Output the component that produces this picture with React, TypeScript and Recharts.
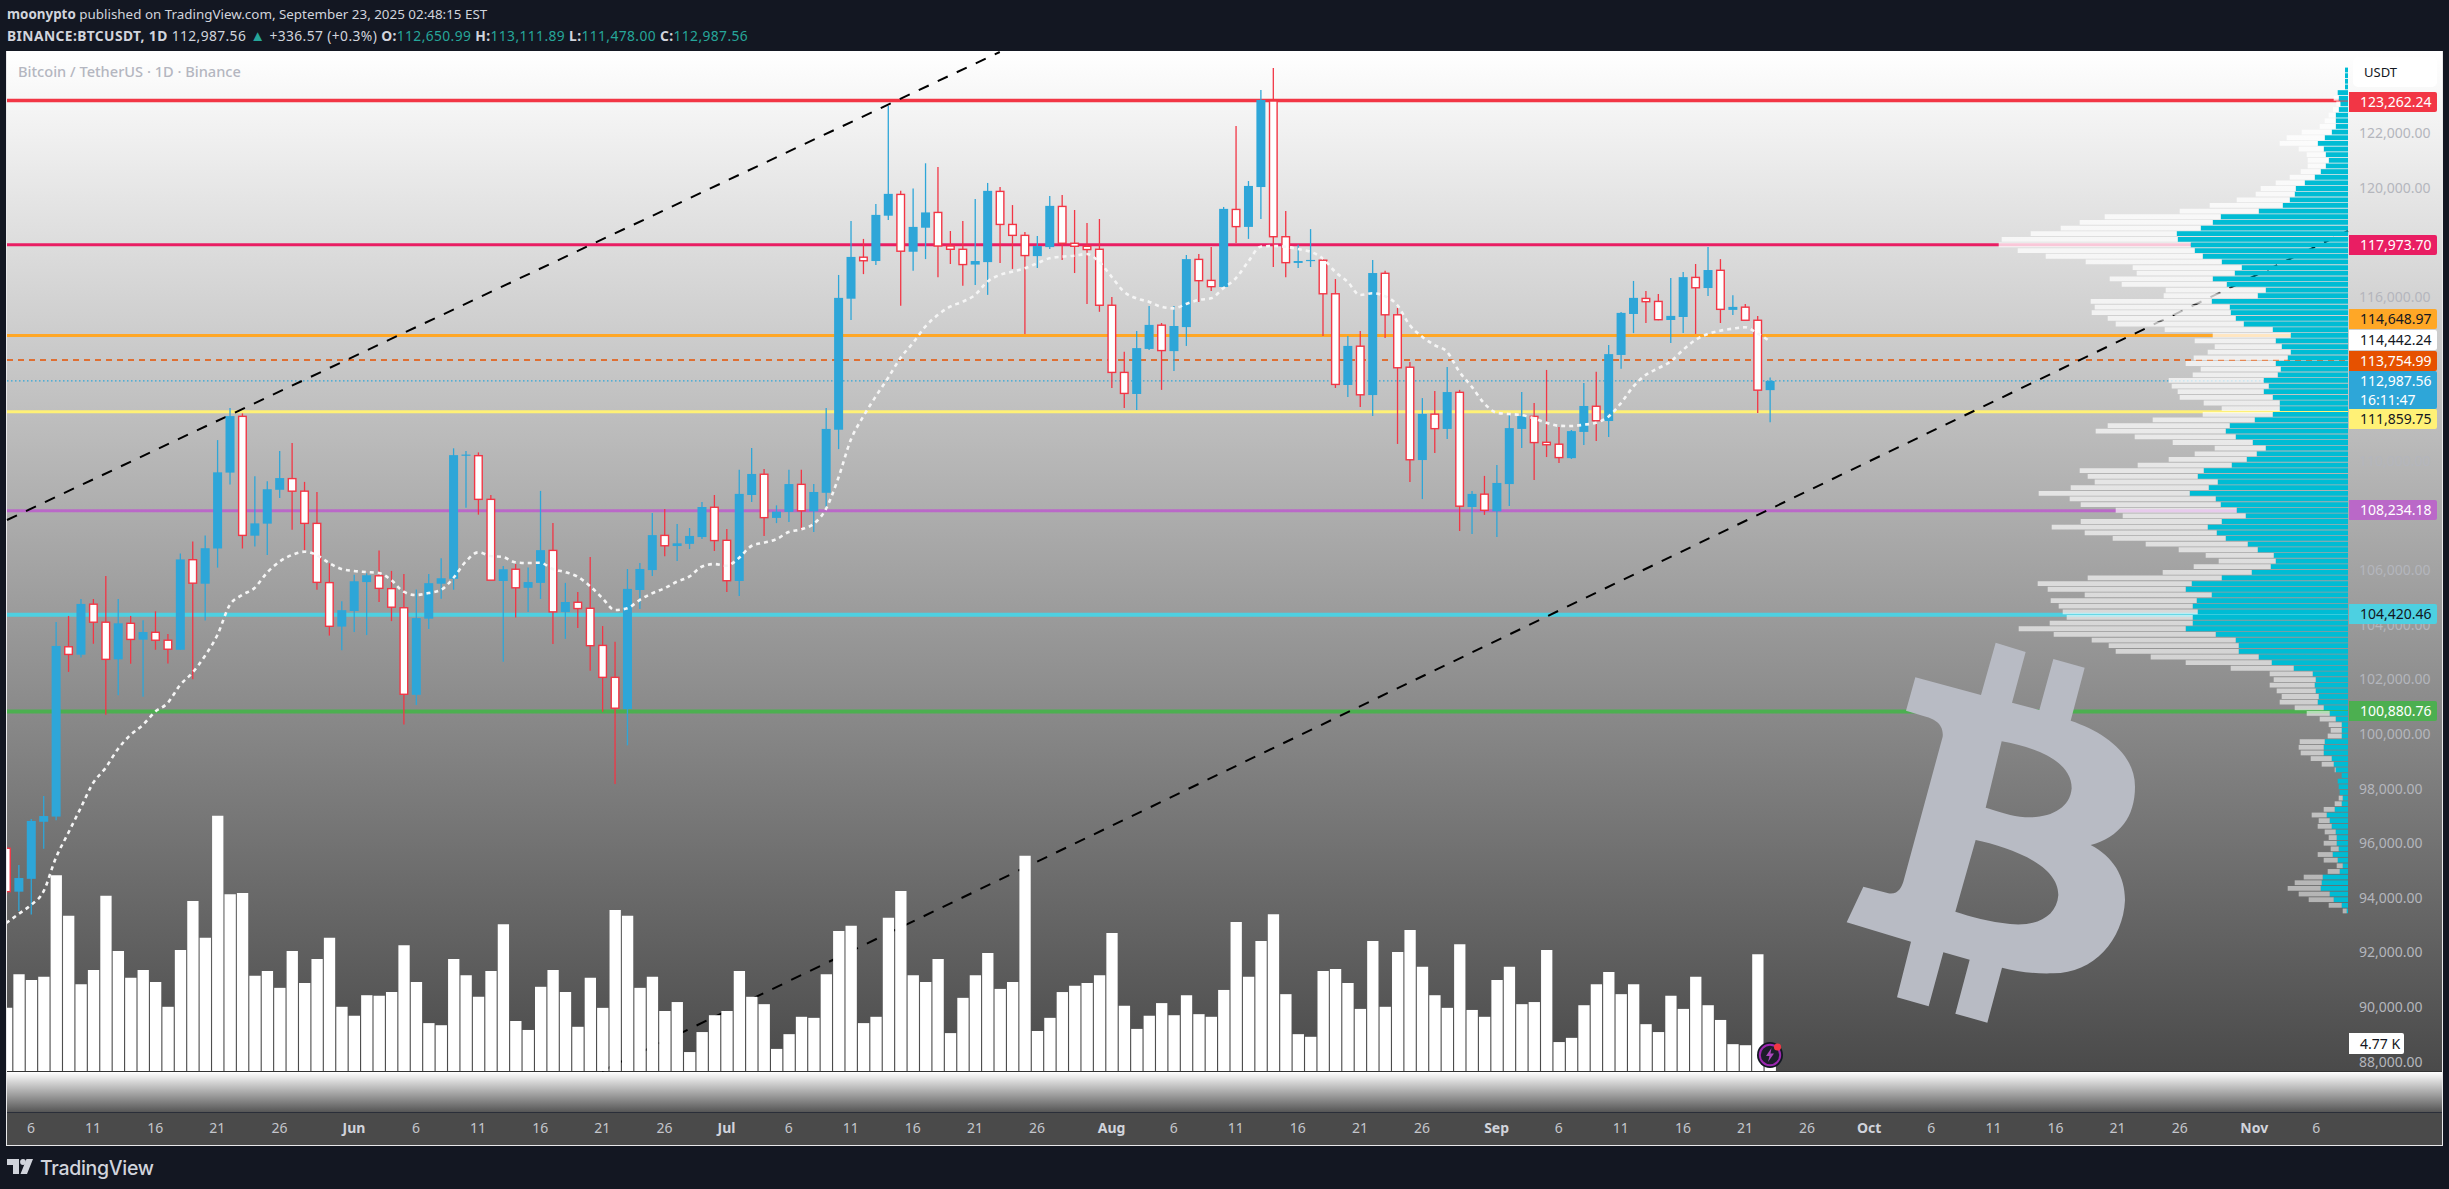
import React from "react";
import { BarChart, ComposedChart, Bar, Line, XAxis, YAxis, ReferenceLine } from "recharts";

const FONT = '"Noto Sans", sans-serif';

// Day index 0 = 6 May 2025
const firstDay = -2;
const opens = [95870,94280,94750,96840,97030,103250,102960,104810,104150,102790,104110,103510,103780,103490,103140,106440,105560,106850,109630,111690,107320,107760,109000,109410,108950,107770,105600,103990,104560,105620,105850,105380,104680,101490,104280,105560,105740,110250,110250,108650,105660,106090,105410,105590,106780,104520,104880,104660,103300,102130,100970,105330,106060,107330,106940,107020,107270,108360,107150,105660,108810,109570,107970,108190,109200,108210,108890,111200,116000,117520,117380,119040,119820,117720,118600,119160,117930,117810,117250,117340,119930,118720,118320,117560,117890,119380,118030,117920,117810,115760,113300,112510,114160,115030,114080,114960,117440,116670,116430,119270,118630,120090,123240,118270,117310,117380,117410,116180,112840,114260,112470,116930,115410,113490,110090,111770,111230,112570,108370,108840,108210,109210,111230,111690,110740,110670,110160,111120,112060,111520,113940,115440,116010,115900,115220,115330,116780,116390,117040,115590,115690,115210,112650.99];
const highs = [95950,95260,96940,97780,104160,104380,105000,105000,105840,105000,104380,104220,104550,103720,106670,107110,107330,110820,112000,111800,109500,109310,110420,110710,109290,108920,106310,104920,105890,105940,106780,106030,105920,105350,105920,106490,110520,110420,110370,108810,106210,106280,106150,108960,107780,105590,105260,106540,104010,103430,106100,106320,108150,108300,107750,107600,108550,108810,107560,109730,110530,109760,108430,109730,109730,109210,112000,116870,118850,118190,119470,123060,119950,120040,120960,120820,118480,118850,119650,120240,120090,119430,118440,118300,119760,119800,119250,118770,118920,116060,114060,114820,115730,115110,115730,117600,117640,117890,119360,122330,120310,123640,124450,119210,117980,118550,117530,116720,114630,114820,117420,117020,115660,113680,112360,112620,113500,112660,108960,109510,109910,111780,112580,112180,113390,111300,111190,112910,113320,114300,115510,116650,116280,116170,116760,116980,117270,117890,117450,116130,115810,115370,113111.89];
const lows = [94160,93570,93440,95850,96900,102330,102860,103360,100760,101470,102630,101420,103140,102640,103130,102060,104210,106150,109190,106850,106920,106610,108700,107540,106790,105340,103660,103120,103790,103680,104890,104190,100400,101120,103900,105010,105340,108340,108090,105690,102700,104320,104520,105000,103350,103540,103940,102370,100870,98220,99640,104630,105840,106570,106390,106830,107200,106760,105260,105110,108550,107310,107780,107820,107530,107450,108300,110490,115220,116900,117230,118880,115740,117020,117450,116790,117270,116470,116500,116140,117310,117090,114710,117120,117820,117420,116940,115810,115520,112730,112000,111920,114120,112660,113350,114270,115880,116280,116390,118040,118190,118920,117160,116790,117120,117160,114630,112730,112400,112030,111700,114560,110680,109290,108660,110350,110860,107490,107380,108080,107270,108410,110530,109360,110200,109980,110130,110640,110790,110930,113430,114740,115110,115210,114380,114740,114710,116100,115110,115400,115210,111810,111478];
const closes = [94280,94780,96870,97050,103280,102970,104820,104150,102790,104110,103520,103790,103490,103160,106450,105580,106860,109640,111700,107330,107770,109020,109430,108950,107770,105610,104000,104590,105650,105870,105390,104700,101510,104300,105580,105760,110270,110290,108650,105690,106090,105410,105620,106790,104530,104890,104650,103290,102130,101000,105370,106100,107340,106950,107040,107310,108370,107140,105670,108850,109580,107980,108200,109210,108230,108920,111230,116030,117530,117390,119070,119840,117740,118630,119160,117930,117810,117250,117380,119950,118720,118320,117580,117930,119400,118030,117920,117800,115760,113300,112530,114190,115040,114100,115000,117450,116660,116440,119290,118640,120130,123280,118270,117320,117380,117420,116180,112860,114270,112480,116940,115410,113470,110100,111780,111240,112580,108400,108850,108250,109250,111260,111700,110730,110650,110180,111150,112070,111530,113970,115480,116030,115890,115230,115370,116790,116400,117050,115610,115700,115210,112650,112987.56];
const volumes = [12.0,18.4,17.3,17.9,37.2,29.5,16.5,19.2,33.3,22.8,17.7,19.2,16.9,12.2,23.0,32.3,25.3,48.5,33.6,33.8,18.1,19.0,15.8,22.8,16.7,21.3,25.3,12.2,10.5,14.4,14.3,15.0,23.9,16.9,9.1,8.7,21.3,18.2,14.1,19.0,27.9,9.5,7.8,16.0,19.2,15.0,8.4,17.7,12.0,30.6,29.5,15.8,17.9,11.4,13.1,3.6,7.4,10.6,11.4,19.0,14.1,12.7,4.2,7.0,10.3,10.1,18.4,26.6,27.6,9.1,10.3,29.1,34.2,18.2,16.9,21.3,7.2,13.9,18.2,22.4,15.6,16.9,40.9,7.6,10.1,15.0,16.2,16.7,18.2,26.2,12.4,8.0,10.5,12.9,10.6,14.4,10.8,10.3,15.4,28.3,17.9,24.7,29.8,14.6,7.0,6.5,19.0,19.4,16.7,11.8,24.7,12.2,22.6,26.8,19.8,14.4,12.0,24.1,11.6,10.3,17.3,19.8,12.7,13.1,23.0,5.5,6.3,12.5,16.5,18.8,14.6,16.5,8.9,7.4,14.3,11.8,17.9,12.5,9.7,5.1,4.9,22.2,4.77];
const movingAverage = [93130,93461,93791,94278,95513,96428,97344,98260,98809,99505,100018,100384,100871,101190,101849,102299,102912,103674,104780,105146,105402,105963,106366,106611,106732,106611,106318,106099,106026,105989,105952,105696,105267,105146,105219,105329,105769,106366,106710,106575,106538,106344,106318,106329,106099,105989,105817,105476,105036,104597,104659,104963,105208,105391,105633,105817,106183,106282,106220,106502,106941,107062,107187,107454,107553,107747,108296,109432,110824,111677,112410,113095,113827,114377,114974,115402,115706,115889,116135,116622,116868,116989,117113,117296,117480,117538,117575,117637,117355,116805,116256,116014,115890,115706,115647,115806,115952,116014,116381,116747,117355,117905,117930,117905,117820,117721,117480,116989,116622,116135,116197,116098,115769,115036,114608,114304,114058,113326,112776,112168,111824,111776,111739,111618,111457,111347,111336,111384,111457,111677,112168,112776,113205,113450,113692,114120,114487,114707,114828,114901,114952,114732,114442];

const tickDays = [0,5,10,15,20,26,31,36,41,46,51,56,61,66,71,76,81,87,92,97,102,107,112,118,123,128,133,138,143,148,153,158,163,168,173,179,184];
const tickNames = ["6","11","16","21","26","Jun","6","11","16","21","26","Jul","6","11","16","21","26","Aug","6","11","16","21","26","Sep","6","11","16","21","26","Oct","6","11","16","21","26","Nov","6"];
const priceTicks = [122000,120000,116000,110000,106000,104000,102000,100000,98000,96000,94000,92000,90000,88000];

const profileUp = [3,3,3,3,10.3,9.3,7.7,9.3,12.3,12.3,12.3,16.3,23.3,30.3,24.3,22.3,19.3,22.3,27.3,33.3,43.3,52.3,53.3,58.3,65.3,89.3,127.3,135.3,147.3,171.3,170.3,157.3,153.3,145.3,126.3,106.3,113.3,135.3,121.3,82.3,90.3,136.3,118.3,117.3,112.3,104.3,75.3,57.3,72.3,66.3,57.3,60.3,72.3,67.3,70.3,84.3,79.3,84.3,75.3,68.3,68.3,75.3,93.3,118.3,122.3,112.3,95.3,82.3,91.3,101.3,116.3,144.3,150.3,130.3,139.3,158.3,132.3,127.3,111.3,102.3,126.3,140.3,131.3,122.3,100.3,90.3,74.3,72.3,77.3,96.3,126.3,156.3,162.3,136.3,151.3,155.3,150.3,155.3,155.3,162.3,132.3,112.3,109.3,109.3,89.3,76.3,54.3,35.3,32.3,33.3,32.3,29.3,30.3,24.3,18.3,12.3,6.3,6.3,6.3,23.3,24.3,24.3,16.3,14.3,12.3,6.3,10.3,9.3,8.3,5.3,6.3,13.3,21.3,18.3,16.3,12.3,11.3,11.3,9.3,15.3,10.3,5.3,8.3,25.3,26.3,27.3,18.3,14.3,6.3,1.3];
const profileDown = [0,0,0,0,0,5,4,5.7,7,11,16,30,38,38,25,19,21,18,20,25,29,35,39,53,73,79,116,133,140,146,176,192,177,157,136,109,98,103,105,100,94,121,135,139,128,128,108,78,81,67,83,94,90,80,85,95,97,86,93,76,58,70,102,122,130,101,80,51,62,78,94,124,110,123,138,151,146,140,121,123,141,156,132,113,102,79,68,57,77,89,134,154,138,127,146,134,135,126,143,167,162,144,130,123,108,86,63,43,42,45,39,37,38,29,23,16,13,11,14,25,25,23,21,12,1,0,0,0,0,4,7,11,15,11,14,11,8,13,8,15,14,6,12,19,27,33,31,25,13,4];

const levelPrices = [123262.24,117973.7,114648.97,111859.75,108234.18,104420.46,100880.76];
const levelColors = ["#f23645","#e91e63","#ffa726","#fff176","#ba68c8","#4dd0e1","#4caf50"];
const levelWidths = [3.5,3,3,3,3,4,4];
const orderPrice = 113754.99;
const lastPrice = 112987.56;

const trendDays = [[-1.932,78],[45.97,186.55]];
const trendPrices = [[107894,125037],[87711,118480]];

const tagTexts = ["123,262.24","117,973.70","114,648.97","114,442.24","113,754.99","112,987.56","111,859.75","108,234.18","104,420.46","100,880.76"];
const tagFills = ["#f23645","#e91e63","#ffa726","#ffffff","#e65100","#2ea6d8","#fff176","#ba68c8","#4dd0e1","#4caf50"];
const tagInks = ["#fff","#fff","#131722","#131722","#fff","#fff","#131722","#fff","#131722","#fff"];
const tagTops = [92,235,309,330,351,371,409,500,604,701];

const rows = opens.map((open, i) => ({
  day: firstDay + i,
  open,
  high: highs[i],
  low: lows[i],
  close: closes[i],
  range: [lows[i], highs[i]],
  vol: volumes[i],
  ma: movingAverage[i],
}));
const profileRows = profileUp.map((up, i) => ({ row: i, up, down: profileDown[i] }));

const UP = "#2ea6d8";
const DOWN = "#f23645";
const DAY_DOMAIN: [number, number] = [-1.932, 186.55];
const PRICE_DOMAIN: [number, number] = [87711, 125073];

function Candle(props: any) {
  const { x, y, width, height, payload } = props;
  const h = Math.abs(height);
  const k = h / (payload.high - payload.low || 1);
  const py = (p: number) => y + (payload.high - p) * k;
  const cx = x + width / 2;
  const isUp = payload.close >= payload.open;
  const top = py(Math.max(payload.open, payload.close));
  const bot = py(Math.min(payload.open, payload.close));
  const color = isUp ? UP : DOWN;
  return (
    <g>
      <line x1={cx} x2={cx} y1={y} y2={y + h} stroke={color} strokeWidth={1.3} />
      {isUp ? (
        <rect x={x} y={top} width={width} height={Math.max(bot - top, 1.2)} fill={UP} />
      ) : (
        <rect x={x + 0.7} y={top} width={width - 1.4} height={Math.max(bot - top, 1)} fill="#fff" stroke={DOWN} strokeWidth={1.4} />
      )}
    </g>
  );
}

function TimeTick(props: any) {
  const { x, y, payload } = props;
  const i = tickDays.indexOf(payload.value);
  const label = tickNames[i] ?? "";
  const isMonth = label.length === 3;
  return (
    <text x={x} y={y} dy="0.35em" textAnchor="middle" fontFamily={FONT} fontSize={14} fontWeight={isMonth ? 700 : 400} fill={isMonth ? "#d1d4dc" : "#c4c6cc"}>
      {label}
    </text>
  );
}

const fmtPrice = (v: number) => v.toLocaleString("en-US", { minimumFractionDigits: 2, maximumFractionDigits: 2 });

function PriceTick(props: any) {
  const { x, y, payload } = props;
  return (
    <text x={x} y={y - 1.5} dy="0.35em" textAnchor="start" fontFamily={FONT} fontSize={14} fill="#b4b6bd">
      {fmtPrice(payload.value)}
    </text>
  );
}

const abs = (l: number, t: number, w?: number, h?: number): React.CSSProperties => ({ position: "absolute", left: l, top: t, width: w, height: h });
const num = (p: string) => <span style={{ color: "#26a69a" }}>{p}</span>;

export default function App() {
  return (
    <div style={{ position: "fixed", left: 0, top: 0, width: 2449, height: 1189, background: "#131722", overflow: "hidden", fontFamily: FONT }}>
      {/* header */}
      <div style={{ ...abs(7, 4), color: "#d1d4dc", fontSize: 13.4, lineHeight: "20px", whiteSpace: "nowrap" }}>
        <b>moonypto</b> published on TradingView.com, September 23, 2025 02:48:15 EST
      </div>
      <div style={{ ...abs(7, 25), color: "#d1d4dc", fontSize: 13.8, letterSpacing: 0.4, lineHeight: "20px", whiteSpace: "nowrap" }}>
        <b>BINANCE:BTCUSDT, 1D</b> 112,987.56 <span style={{ color: "#26a69a", fontSize: 15 }}>▲</span> +336.57 (+0.3%) <b>O:</b>{num("112,650.99")} <b>H:</b>{num("113,111.89")} <b>L:</b>{num("111,478.00")} <b>C:</b>{num("112,987.56")}
      </div>

      {/* pane */}
      <div style={{ ...abs(7, 51, 2435, 1020), background: "linear-gradient(180deg,#ffffff 0%,#4a4a4a 100%)" }} />
      <div style={{ ...abs(7, 1071, 2435, 41), background: "linear-gradient(180deg,#ffffff 0%,#565656 100%)", borderTop: "1px solid #333", boxSizing: "border-box" }} />
      <div style={{ ...abs(7, 1112, 2435, 33), background: "#4a4a4a", borderTop: "1px solid #2a2e39", boxSizing: "border-box" }} />
      <div style={{ ...abs(6, 51, 2437, 1095), border: "1px solid #e8e8ea", borderTop: "none", boxSizing: "border-box" }} />
      <div style={{ ...abs(18, 61), color: "#b4b6c0", fontSize: 14.6, fontWeight: 500, lineHeight: "20px", whiteSpace: "nowrap" }}>
        Bitcoin / TetherUS · 1D · Binance
      </div>

      {/* drawings, below the series */}
      <div style={abs(0, 0)}>
        <ComposedChart width={2449} height={1189} data={rows} margin={{ top: 51, right: 101, bottom: 118, left: 7 }}>
          <XAxis type="number" dataKey="day" domain={DAY_DOMAIN} allowDataOverflow hide />
          <YAxis type="number" domain={PRICE_DOMAIN} allowDataOverflow hide />
          {levelPrices.map((p, i) => (
            <ReferenceLine key={p} y={p} stroke={levelColors[i]} strokeWidth={levelWidths[i]} />
          ))}
          <ReferenceLine y={orderPrice} stroke="#e65100" strokeWidth={1.4} strokeDasharray="6 5" />
          <ReferenceLine y={lastPrice} stroke={UP} strokeWidth={1.2} strokeDasharray="1.5 2.5" />
          {trendDays.map((d, i) => (
            <ReferenceLine
              key={i}
              segment={[{ x: d[0], y: trendPrices[i][0] }, { x: d[1], y: trendPrices[i][1] }]}
              stroke="#000"
              strokeWidth={2}
              strokeDasharray="11 10"
            />
          ))}
        </ComposedChart>
      </div>

      {/* candles, moving average, volume and axes */}
      <div style={abs(0, 0)}>
        <ComposedChart width={2449} height={1189} data={rows} margin={{ top: 51, right: 7, bottom: 58, left: 7 }}>
          <XAxis
            type="number"
            dataKey="day"
            domain={DAY_DOMAIN}
            allowDataOverflow
            ticks={tickDays}
            interval={0}
            tick={<TimeTick />}
            tickSize={0}
            tickMargin={57}
            axisLine={false}
            tickLine={false}
            height={60}
          />
          <XAxis xAxisId="v" type="number" dataKey="day" domain={DAY_DOMAIN} allowDataOverflow hide />
          <YAxis
            orientation="right"
            width={94}
            type="number"
            domain={PRICE_DOMAIN}
            allowDataOverflow
            ticks={priceTicks}
            interval={0}
            tick={<PriceTick />}
            tickSize={0}
            tickMargin={11}
            axisLine={false}
            tickLine={false}
          />
          <YAxis yAxisId="v" type="number" domain={[0, 193.8]} hide />
          <Bar dataKey="range" barSize={9} shape={<Candle />} isAnimationActive={false} />
          <Line dataKey="ma" type="monotone" dot={false} activeDot={false} stroke="#f5f5f5" strokeWidth={2.6} strokeDasharray="4 4" isAnimationActive={false} />
          <Bar xAxisId="v" yAxisId="v" dataKey="vol" barSize={11.3} fill="#ffffff" isAnimationActive={false} />
        </ComposedChart>
      </div>

      {/* visible-range volume profile */}
      <div style={abs(0, 0)}>
        <BarChart width={2449} height={1189} layout="vertical" data={profileRows} margin={{ top: 67.6, right: 101, bottom: 274.8, left: 1948 }}>
          <defs>
            <linearGradient id="profileFade" gradientUnits="userSpaceOnUse" x1="0" y1="68" x2="0" y2="914">
              <stop offset="0" stopColor="#fff" stopOpacity={0.82} />
              <stop offset="1" stopColor="#fff" stopOpacity={0.5} />
            </linearGradient>
          </defs>
          <XAxis type="number" domain={[0, 400]} reversed hide />
          <YAxis type="category" dataKey="row" hide />
          <Bar dataKey="up" stackId="p" barSize={4.8} fill="#00bcd4" isAnimationActive={false} />
          <Bar dataKey="down" stackId="p" barSize={4.8} fill="url(#profileFade)" isAnimationActive={false} />
        </BarChart>
      </div>

      {/* bitcoin logo */}
      <svg style={abs(1820, 620, 340, 420)} viewBox="0 0 1020 1260">
        <path
          fill="#b8bbc4"
          fillRule="evenodd"
          d="M527,68 L617,96 L576,248 L658,270 L700,117 L794,143 L752,302 C850,335 945,400 945,500 C945,590 900,650 812,675 C880,710 915,770 915,840 C910,960 820,1060 700,1060 C640,1062 590,1055 546,1043 L502,1208 L406,1181 L449,1019 L370,997 L326,1159 L231,1132 L273,965 L80,907 L130,800 L205,820 C235,825 245,800 250,785 L368,350 C372,310 340,295 310,288 L258,272 L286,172 L483,225 Z M545,364 C640,380 755,420 755,505 C750,570 680,600 600,590 C560,585 525,570 497,563 Z M467,660 C560,680 715,730 715,825 C710,890 650,920 570,912 C510,905 450,890 406,875 Z"
        />
      </svg>

      {/* news badge */}
      <svg style={abs(1755, 1040, 30, 30)} viewBox="0 0 30 30">
        <circle cx={15} cy={15} r={13} fill="#131722" />
        <circle cx={15} cy={15} r={10.2} fill="#1c1e2a" stroke="#9c27b0" strokeWidth={2} />
        <path d="M16.5,8 L11,16 H14.5 L13,22 L19,13.5 H15.5 Z" fill="#ab47bc" />
        <circle cx={22.5} cy={7} r={3.6} fill="#f23645" />
      </svg>

      {/* price tags */}
      <div style={{ ...abs(2353, 57, 84, 30), background: "#fff", borderRadius: 5, color: "#131722", fontSize: 13, lineHeight: "30px", paddingLeft: 11, boxSizing: "border-box" }}>USDT</div>
      {tagTexts.map((t, i) => (
        <div
          key={t}
          style={{
            ...abs(2349, tagTops[i], 88, t === "112,987.56" ? 38 : 20),
            background: tagFills[i],
            color: tagInks[i],
            fontSize: 14,
            lineHeight: "19px",
            paddingLeft: 11,
            boxSizing: "border-box",
            borderRadius: "0 2px 2px 0",
            whiteSpace: "pre",
          }}
        >
          {t}
          {t === "112,987.56" ? "\n16:11:47" : ""}
        </div>
      ))}
      <div style={{ ...abs(2349, 1033, 55, 21), background: "#fff", color: "#131722", fontSize: 14, lineHeight: "21px", paddingLeft: 11, boxSizing: "border-box", borderRadius: "0 2px 2px 0", whiteSpace: "nowrap" }}>4.77 K</div>

      {/* footer */}
      <svg style={abs(7, 1159, 27, 16)} viewBox="0 0 27 16">
        <path d="M0,0 H12 V15 H6 V6 H0 Z M26,0 L20,15 H13.5 L19.5,0 Z" fill="#d1d4dc" />
        <circle cx={16} cy={3} r={2.9} fill="#d1d4dc" />
      </svg>
      <div style={{ ...abs(40, 1156), color: "#d1d4dc", fontFamily: "Inter, sans-serif", fontWeight: 500, fontSize: 19.5, lineHeight: "24px", letterSpacing: -0.3, whiteSpace: "nowrap" }}>TradingView</div>
    </div>
  );
}
